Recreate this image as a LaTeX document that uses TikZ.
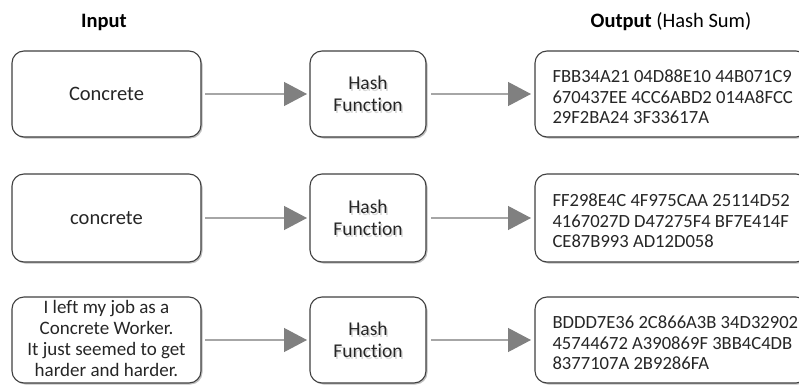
\documentclass[tikz,border=0pt]{standalone}
\usepackage{fontspec}
\setmainfont{Carlito}[Ligatures={NoCommon,NoContextual}]
\usetikzlibrary{shadows,arrows.meta}
\definecolor{frame}{HTML}{404040}
\definecolor{linkline}{HTML}{A6A6A6}
\definecolor{linktip}{HTML}{808080}
\definecolor{ink}{HTML}{262626}
\tikzset{
  box/.style={draw=frame, line width=1.1pt, rounded corners=12pt, fill=white,
    drop shadow={shadow xshift=1.5pt, shadow yshift=-1.5pt, opacity=0.25, fill=black}},
  boxtext/.style={font=\fontsize{20.5}{22}\selectfont, text=ink, align=center},
  fntext/.style={font=\fontsize{19.5}{22}\selectfont, text=ink, align=center},
  fnshade/.style={fntext, text=black, opacity=0.15},
  hextext/.style={font=\fontsize{18.6}{20.5}\selectfont, text=ink, align=left, anchor=west},
  head/.style={font=\fontsize{20.5}{22}\selectfont, text=black}
}
\tikzset{
  link/.style={draw=linkline, line width=1.2pt,
    -{Triangle[length=23pt, width=24pt, fill=linktip, color=linktip]}}
}
\begin{document}
\begin{tikzpicture}[x=1pt,y=-1pt]
\useasboundingbox (0,0) rectangle (799,385);

% column headings
\node[head] (hin) at (104,22) {\textbf{Input}};
\node[head] (hout) at (671,22) {\textbf{Output} (Hash Sum)};

% row boxes: input, hash function, output
\foreach \r/\top/\bot in {1/51/137, 2/174/262, 3/297/383}{
  \path[box] (12,\top) rectangle (201,\bot);
  \path[box] (310,\top) rectangle (426,\bot);
  \path[box] (535,\top) rectangle (808,\bot);
  \coordinate (in\r) at (106.5,{(\top+\bot)/2});
  \coordinate (inR\r) at (205,{(\top+\bot)/2});
  \coordinate (fn\r) at (368,{(\top+\bot)/2});
  \coordinate (fns\r) at (369.5,{(\top+\bot)/2+1.5});
  \coordinate (hL\r) at (307,{(\top+\bot)/2});
  \coordinate (hR\r) at (431,{(\top+\bot)/2});
  \coordinate (oL\r) at (531,{(\top+\bot)/2});
  \coordinate (out\r) at (549,{(\top+\bot)/2+3});
}

% inputs
\node[boxtext] (i1) at (in1) {Concrete};
\node[boxtext] (i2) at (in2) {concrete};
\node[boxtext, font=\fontsize{19}{21}\selectfont] (i3) at ([yshift=1.5pt]in3)
  {I left my job as a\\Concrete Worker.\\It just seemed to get\\harder and harder.};

% hash function boxes, with a soft text shadow
\foreach \r in {1,2,3}{
  \node[fnshade] (fs\r) at (fns\r) {Hash\\Function};
  \node[fntext] (f\r) at (fn\r) {Hash\\Function};
}

% hash sums
\node[hextext] (o1) at (out1) {FBB34A21 04D88E10 44B071C9\\670437EE 4CC6ABD2 014A8FCC\\29F2BA24 3F33617A};
\node[hextext] (o2) at (out2) {FF298E4C 4F975CAA 25114D52\\4167027D D47275F4 BF7E414F\\CE87B993 AD12D058};
\node[hextext] (o3) at (out3) {BDDD7E36 2C866A3B 34D32902\\45744672 A390869F 3BB4C4DB\\8377107A 2B9286FA};

% connectors
\foreach \r in {1,2,3}{
  \draw[link] (inR\r) -- (hL\r);
  \draw[link] (hR\r) -- (oL\r);
}
\end{tikzpicture}
\end{document}
